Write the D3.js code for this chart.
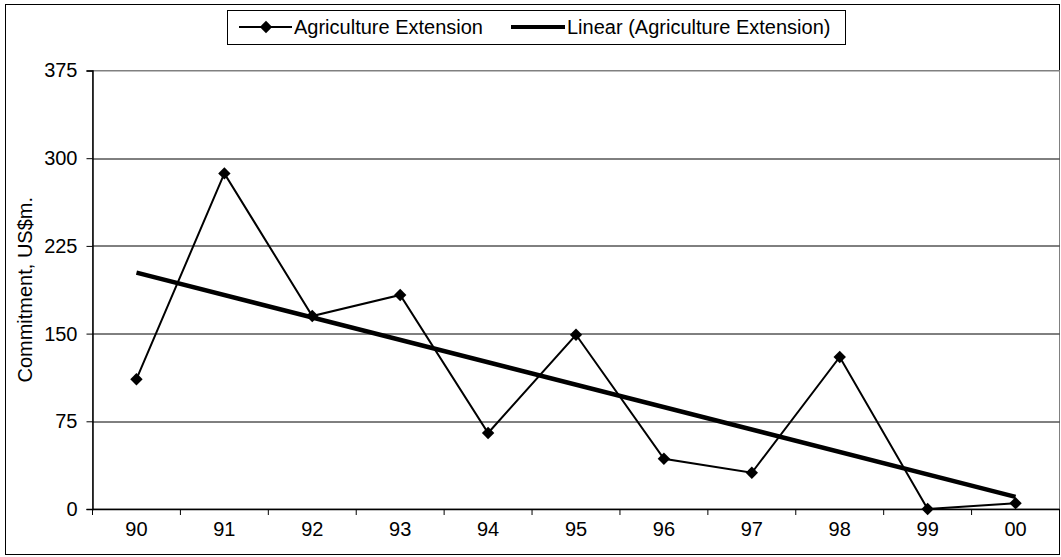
<!DOCTYPE html>
<html>
<head>
<meta charset="utf-8">
<script src="https://cdn.jsdelivr.net/npm/d3@7"></script>
<style>
  body { margin: 0; background: #fff; }
  text { font-family: "Liberation Sans", Arial, sans-serif; fill: #000; }
</style>
</head>
<body>
<script>
// categories (years) and values
var years = ["90", "91", "92", "93", "94", "95", "96", "97", "98", "99", "00"];
var values = [111, 287, 165, 183, 65, 149, 43, 31, 130, 0, 5];
var yTicks = [0, 75, 150, 225, 300, 375];

var width = 1061, height = 557;
var margin = { top: 70.5, right: 2, bottom: 48, left: 92.5 };
var plotW = 1059.5 - margin.left;
var plotH = 509 - margin.top;
var font = "'Liberation Sans', Arial, sans-serif";

var svg = d3.select("body").append("svg")
    .attr("width", width)
    .attr("height", height);

// outer chart border
svg.append("rect")
    .attr("x", 5.5).attr("y", 4.5)
    .attr("width", 1054).attr("height", 550)
    .attr("fill", "none").attr("stroke", "#000").attr("stroke-width", 1);

var g = svg.append("g")
    .attr("transform", "translate(" + margin.left + "," + margin.top + ")");

var x = d3.scaleBand().domain(years).range([0, plotW]);
var y = d3.scaleLinear().domain([0, 375]).range([plotH, 0]);

// plot area border (grey)
g.append("rect")
    .attr("x", 0).attr("y", 0)
    .attr("width", plotW).attr("height", plotH)
    .attr("fill", "none").attr("stroke", "#808080").attr("stroke-width", 1);

// gridlines
g.append("g")
    .selectAll("line")
    .data(yTicks.filter(function(d) { return d > 0; }))
    .enter().append("line")
    .attr("x1", 0).attr("x2", plotW)
    .attr("y1", function(d) { return Math.round(y(d)) + 0.5; })
    .attr("y2", function(d) { return Math.round(y(d)) + 0.5; })
    .attr("stroke", function(d) { return d == 375 ? "#808080" : "#000"; })
    .attr("stroke-width", 1);

// y axis
var yAxis = g.append("g")
    .call(d3.axisLeft(y).tickValues(yTicks).tickSize(6).tickPadding(9));
yAxis.select(".domain").attr("stroke", "#000").attr("stroke-width", 1.5);
yAxis.selectAll("text").style("font-size", "20px").style("font-family", font);

// x axis (ticks between categories)
var xAxis = g.append("g")
    .attr("transform", "translate(0," + plotH + ")")
    .call(d3.axisBottom(x).tickSize(0).tickPadding(13));
xAxis.select(".domain").attr("stroke", "#000").attr("stroke-width", 1.5);
xAxis.selectAll("text").style("font-size", "20px").style("font-family", font);
g.append("g")
    .selectAll("line")
    .data(d3.range(years.length + 1))
    .enter().append("line")
    .attr("x1", function(i) { return i * x.step(); })
    .attr("x2", function(i) { return i * x.step(); })
    .attr("y1", plotH).attr("y2", plotH + 6)
    .attr("stroke", "#000");

// y axis title
svg.append("text")
    .attr("transform", "translate(32," + (margin.top + plotH / 2) + ") rotate(-90)")
    .attr("text-anchor", "middle")
    .style("font-size", "20px")
    .text("Commitment, US$m.");

// linear trend (least squares)
var n = values.length;
var mx = d3.mean(d3.range(n)), my = d3.mean(values);
var sxy = d3.sum(values, function(v, i) { return (i - mx) * (v - my); });
var sxx = d3.sum(d3.range(n), function(i) { return (i - mx) * (i - mx); });
var slope = sxy / sxx, intercept = my - slope * mx;
var trend = [0, n - 1].map(function(i) { return { k: years[i], v: intercept + slope * i }; });

var cx = function(k) { return x(k) + x.bandwidth() / 2; };

var line = d3.line()
    .x(function(d) { return cx(d.k); })
    .y(function(d) { return y(d.v); });

var series = years.map(function(k, i) { return { k: k, v: values[i] }; });

g.append("path")
    .datum(series)
    .attr("d", line)
    .attr("fill", "none")
    .attr("stroke", "#000")
    .attr("stroke-width", 2);

g.append("path")
    .datum(trend)
    .attr("d", line)
    .attr("fill", "none")
    .attr("stroke", "#000")
    .attr("stroke-width", 4.5);

var diamond = d3.symbol().type(d3.symbolDiamond2).size(98);
g.append("g")
    .selectAll("path")
    .data(series)
    .enter().append("path")
    .attr("d", diamond)
    .attr("transform", function(d) { return "translate(" + cx(d.k) + "," + y(d.v) + ")"; })
    .attr("fill", "#000");

// legend
var legend = svg.append("g");
legend.append("rect")
    .attr("x", 227.5).attr("y", 10.5)
    .attr("width", 618).attr("height", 34)
    .attr("fill", "#fff").attr("stroke", "#000");
legend.append("line")
    .attr("x1", 239).attr("x2", 292).attr("y1", 27).attr("y2", 27)
    .attr("stroke", "#000").attr("stroke-width", 2);
legend.append("path")
    .attr("d", diamond)
    .attr("transform", "translate(266,27)");
legend.append("text")
    .attr("x", 294).attr("y", 34)
    .style("font-size", "20px")
    .text("Agriculture Extension");
legend.append("line")
    .attr("x1", 511).attr("x2", 565).attr("y1", 27).attr("y2", 27)
    .attr("stroke", "#000").attr("stroke-width", 4);
legend.append("text")
    .attr("x", 567).attr("y", 34)
    .style("font-size", "20px")
    .text("Linear (Agriculture Extension)");
</script>
</body>
</html>
